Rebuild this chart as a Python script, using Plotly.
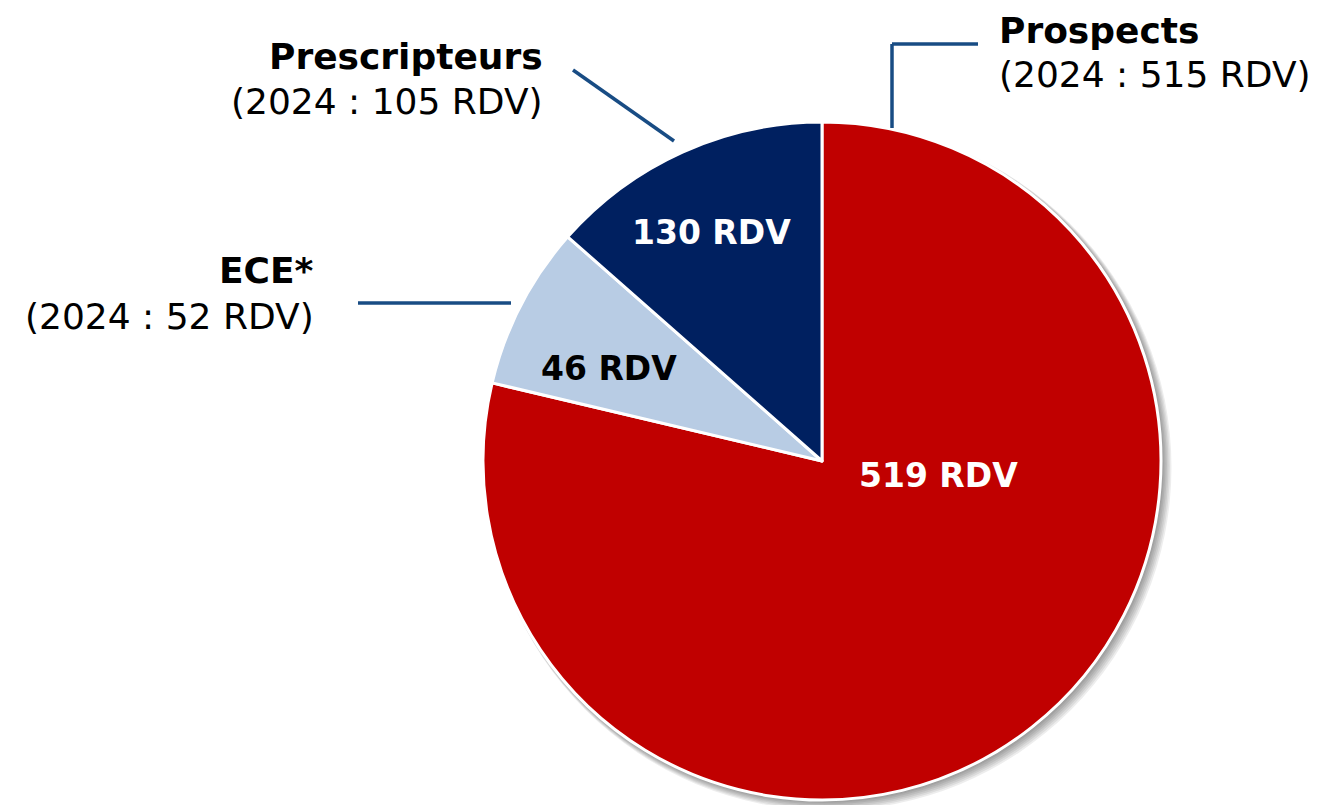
import plotly.graph_objects as go

# data
categories = ["Prospects", "ECE*", "Prescripteurs"]
rdv_2025 = [519, 46, 130]
rdv_2024 = [515, 52, 105]
# slice sizes as drawn in the source picture (%), not proportional to the RDV counts
slice_share = [78.7, 7.8, 13.5]

COLORS = ["#C00000", "#B8CCE4", "#002060"]
TEXT_COLORS = ["white", "black", "white"]
LINE = "#184C84"
FONT = "DejaVu Sans"

# the page body has an 8px margin, so the figure is drawn from (8, 8)
OFF = 8
W, H = 1318 - OFF, 805 - OFF


def px(x):
    return (x - OFF) / W


def py(y):
    return 1 - (y - OFF) / H


# pie geometry (screen pixels)
CX, CY, R = 822, 461, 339

fig = go.Figure()
fig.add_trace(go.Pie(
    labels=categories, values=slice_share,
    sort=False, direction="clockwise", rotation=0,
    marker=dict(colors=COLORS, line=dict(color="white", width=3)),
    textinfo="none",
    customdata=rdv_2025,
    hovertemplate="%{label}: %{customdata} RDV<extra></extra>",
    domain=dict(x=[px(CX - R), px(CX + R)], y=[py(CY + R), py(CY - R)]),
))

# soft shadow behind the pie, towards the lower right
for i in range(1, 8):
    off, extra = i * 0.9, i * 0.6
    fig.add_shape(
        type="circle", xref="paper", yref="paper",
        xsizemode="pixel", ysizemode="pixel",
        xanchor=px(CX), yanchor=py(CY),
        x0=-R - extra + off, x1=R + extra + off,
        y0=-R - extra - off, y1=R + extra - off,
        fillcolor="rgba(0,0,0,0.07)", line_width=0, layer="below",
    )

# connector lines (screen pixels)
connectors = [
    [(892, 128), (892, 44), (978, 44)],
    [(511, 303), (358, 303)],
    [(674, 141), (573, 70)],
]
for pts in connectors:
    for (x0, y0), (x1, y1) in zip(pts[:-1], pts[1:]):
        fig.add_shape(
            type="line", xref="paper", yref="paper",
            x0=px(x0), y0=py(y0), x1=px(x1), y1=py(y1),
            line=dict(color=LINE, width=3.5),
        )

# outside labels: (x, y of name line, y of 2024 line, side), same order as categories
label_pos = [
    (997, 30, 74, "left"),
    (316, 270, 316, "right"),
    (545, 57, 101, "right"),
]
for cat, prev, (x, y1, y2, side) in zip(categories, rdv_2024, label_pos):
    fig.add_annotation(
        x=px(x), y=py(y1), xref="paper", yref="paper",
        xanchor=side, yanchor="middle",
        text=f"<b>{cat}</b>", showarrow=False,
        font=dict(family=FONT, size=36, color="black"),
    )
    fig.add_annotation(
        x=px(x), y=py(y2), xref="paper", yref="paper",
        xanchor=side, yanchor="middle",
        text=f"(2024 : {prev} RDV)", showarrow=False,
        font=dict(family=FONT, size=36, color="black"),
    )

# inside labels (centre of each value label)
inside_pos = [(938, 476), (609, 368), (711, 232)]
for val, color, (x, y) in zip(rdv_2025, TEXT_COLORS, inside_pos):
    fig.add_annotation(
        x=px(x), y=py(y), xref="paper", yref="paper",
        xanchor="center", yanchor="middle",
        text=f"<b>{val} RDV</b>", showarrow=False,
        font=dict(family=FONT, size=33, color=color),
    )

fig.update_layout(
    width=W, height=H,
    margin=dict(l=0, r=0, t=0, b=0),
    paper_bgcolor="white", plot_bgcolor="white",
    showlegend=False,
    font=dict(family=FONT),
)

fig.write_html("out.html")
